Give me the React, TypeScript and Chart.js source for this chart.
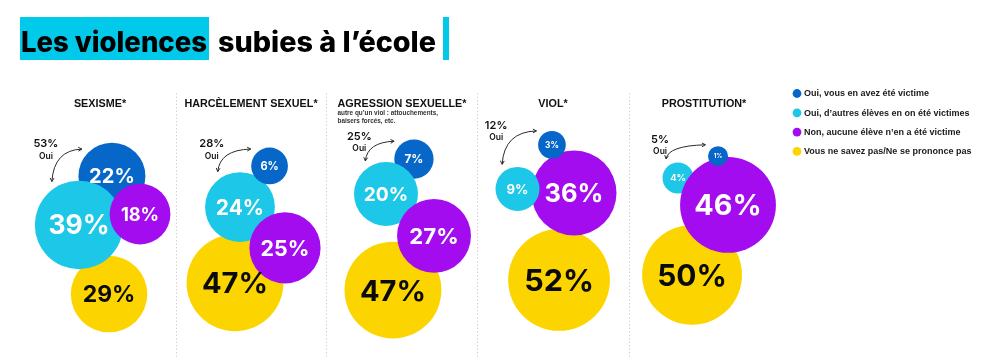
import React, { useEffect, useRef } from "react";
import { Chart, registerables } from "chart.js";

Chart.register(...registerables);

// ---------- data ----------
const categories = ["SEXISME*", "HARCÈLEMENT SEXUEL*", "AGRESSION SEXUELLE*", "VIOL*", "PROSTITUTION*"];
const categoryNotes = [[], [], ["autre qu’un viol : attouchements,", "baisers forcés, etc."], [], []];
const seriesLabels = [
  "Oui, vous en avez été victime",
  "Oui, d’autres élèves en on été victimes",
  "Non, aucune élève n’en a été victime",
  "Vous ne savez pas/Ne se prononce pas",
];
const victimYou = [22, 6, 7, 3, 1];
const victimOthers = [39, 24, 20, 9, 4];
const noVictim = [18, 25, 27, 36, 46];
const dontKnow = [29, 47, 47, 52, 50];
const ouiTotals = [53, 28, 25, 12, 5];
const ouiLabel = "Oui";
const titleHighlight = "Les violences";
const titleRest = "subies à l’école";

// ---------- layout (bubble centres: x offset in panel widths, y in % of height) ----------
const layoutDx = [
  [0.079, 0.123, 0.079, -0.007, 0.093],
  [-0.139, -0.073, -0.106, -0.235, -0.172],
  [0.265, 0.225, 0.212, 0.139, 0.159],
  [0.06, -0.106, -0.06, 0.04, -0.079],
];
const layoutY = [
  [48.4, 45.6, 43.7, 39.8, 42.9],
  [61.8, 56.9, 53.3, 51.9, 48.9],
  [58.8, 68.1, 64.8, 53.0, 56.3],
  [80.8, 77.7, 79.7, 76.9, 75.5],
];
const drawOrder = [
  [3, 0, 1, 2],
  [3, 1, 0, 2],
  [3, 0, 1, 2],
  [3, 2, 1, 0],
  [3, 1, 2, 0],
];
const COLORS = ["#0667c9", "#1cc7e7", "#a30cef", "#fcd500"];
const TITLE_CYAN = "#00c9e9";

function radiusOf(v: number) {
  return 7.0 * Math.sqrt(v) + 3 / Math.sqrt(v);
}

function fitText(ctx: CanvasRenderingContext2D, text: string, x: number, y: number, w: number) {
  const m = ctx.measureText(text).width;
  ctx.save();
  ctx.translate(x, y);
  ctx.scale(w / m, 1);
  ctx.fillText(text, 0, 0);
  ctx.restore();
}

function arrowHead(ctx: CanvasRenderingContext2D, x: number, y: number, ang: number, size: number) {
  ctx.beginPath();
  ctx.moveTo(x - size * Math.cos(ang - 0.5), y - size * Math.sin(ang - 0.5));
  ctx.lineTo(x, y);
  ctx.lineTo(x - size * Math.cos(ang + 0.5), y - size * Math.sin(ang + 0.5));
  ctx.stroke();
}

export default function App() {
  const ref = useRef<HTMLCanvasElement>(null);

  useEffect(() => {
    const series = [victimYou, victimOthers, noVictim, dontKnow];
    const datasets = categories.map((cat, p) => ({
      label: cat,
      data: drawOrder[p].map((s) => ({ x: p + layoutDx[s][p], y: layoutY[s][p], v: series[s][p], s })),
      backgroundColor: (c: any) => COLORS[c.raw ? c.raw.s : 0],
      borderWidth: 0,
      radius: (c: any) => (c.raw ? radiusOf(c.raw.v) : 0),
    }));

    const decor = {
      id: "decor",
      beforeDatasetsDraw(chart: any) {
        const ctx = chart.ctx as CanvasRenderingContext2D;
        const xs = chart.scales.x;
        ctx.save();
        ctx.strokeStyle = "#d2d2d2";
        ctx.lineWidth = 1;
        ctx.setLineDash([1.5, 2]);
        for (let p = 0; p < categories.length - 1; p++) {
          const x = Math.round(xs.getPixelForValue(p + 0.5)) + 0.5;
          ctx.beginPath();
          ctx.moveTo(x, 93);
          ctx.lineTo(x, 358);
          ctx.stroke();
        }
        ctx.restore();
      },
      afterDatasetsDraw(chart: any) {
        const ctx = chart.ctx as CanvasRenderingContext2D;
        const xs = chart.scales.x;
        ctx.save();

        // title
        ctx.fillStyle = TITLE_CYAN;
        ctx.fillRect(20, 17, 189, 43);
        ctx.fillRect(443, 17, 6, 43);
        ctx.fillStyle = "#000";
        ctx.font = "800 28px Inter";
        ctx.textBaseline = "alphabetic";
        ctx.textAlign = "left";
        fitText(ctx, titleHighlight, 21, 52, 186);
        fitText(ctx, titleRest, 218, 52, 218);

        // headers
        categories.forEach((cat, p) => {
          const cx = xs.getPixelForValue(p);
          ctx.font = 'bold 10.8px "Liberation Sans"';
          ctx.fillStyle = "#111";
          ctx.textAlign = "center";
          ctx.textBaseline = "middle";
          ctx.fillText(cat, cx, 104);
          const w = ctx.measureText(cat).width;
          const notes = categoryNotes[p];
          ctx.font = 'bold 6.4px "Liberation Sans"';
          ctx.fillStyle = "#333";
          ctx.textAlign = "left";
          notes.forEach((line, i) => ctx.fillText(line, cx - w / 2, 113 + i * 8.5));
        });

        // bubble labels + annotations
        chart.data.datasets.forEach((ds: any, p: number) => {
          const meta = chart.getDatasetMeta(p);
          const els: any = {};
          meta.data.forEach((el: any, j: number) => {
            const raw = ds.data[j];
            const r = el.options.radius;
            els[raw.s] = { x: el.x, y: el.y, r };
            const fs = 0.6 * r;
            ctx.font = `700 ${fs}px Inter`;
            ctx.fillStyle = raw.s === 3 ? "#0b0b0b" : "#ffffff";
            ctx.textAlign = "center";
            ctx.textBaseline = "alphabetic";
            ctx.fillText(`${raw.v}%`, el.x, el.y + fs * 0.36);
          });
          const a = els[1];
          const b = els[0];
          const aAng = (-122 * Math.PI) / 180;
          const bAng = (-138 * Math.PI) / 180;
          const sx = a.x + (a.r + 7) * Math.cos(aAng);
          const sy = a.y + (a.r + 7) * Math.sin(aAng);
          const ex = b.x + (b.r + 7) * Math.cos(bAng);
          const ey = b.y + (b.r + 7) * Math.sin(bAng);
          const cx = sx + 2;
          const cy = ey + 1;
          ctx.strokeStyle = "#2a2a2a";
          ctx.lineWidth = 1;
          ctx.beginPath();
          ctx.moveTo(sx, sy);
          ctx.quadraticCurveTo(cx, cy, ex, ey);
          ctx.stroke();
          arrowHead(ctx, sx, sy, Math.atan2(sy - cy, sx - cx), 4);
          arrowHead(ctx, ex, ey, Math.atan2(ey - cy, ex - cx), 4);
          ctx.fillStyle = "#111";
          ctx.textAlign = "center";
          ctx.textBaseline = "middle";
          ctx.font = "600 11px Inter";
          const lx = sx - 6;
          const ly = ey - 5;
          ctx.fillText(`${ouiTotals[p]}%`, lx, ly);
          ctx.font = "600 8.5px Inter";
          ctx.fillText(ouiLabel, lx, ly + 12);
        });

        // legend
        seriesLabels.forEach((lab, i) => {
          const y = 93.5 + i * 19.3;
          ctx.fillStyle = COLORS[i];
          ctx.beginPath();
          ctx.arc(797, y, 4.4, 0, Math.PI * 2);
          ctx.fill();
          ctx.fillStyle = "#1a1a1a";
          ctx.font = 'bold 9px "Liberation Sans"';
          ctx.textAlign = "left";
          ctx.textBaseline = "middle";
          ctx.fillText(lab, 804, y + 0.5);
        });

        ctx.restore();
      },
    };

    const chart = new Chart(ref.current as HTMLCanvasElement, {
      type: "bubble",
      data: { datasets: datasets as any },
      options: {
        animation: false,
        responsive: false,
        devicePixelRatio: 1,
        events: [],
        layout: { padding: 0, autoPadding: false },
        plugins: { legend: { display: false }, tooltip: { enabled: false } },
        scales: {
          x: { type: "linear", display: false, min: -100 / 151, max: 899 / 151 },
          y: { type: "linear", display: false, min: 0, max: 100, reverse: true },
        },
      },
      plugins: [decor],
    });
    return () => chart.destroy();
  }, []);

  return (
    <div style={{ position: "absolute", left: 0, top: 0, width: 999, height: 364, background: "#fff" }}>
      <canvas ref={ref} width={999} height={364} style={{ display: "block" }} />
    </div>
  );
}
